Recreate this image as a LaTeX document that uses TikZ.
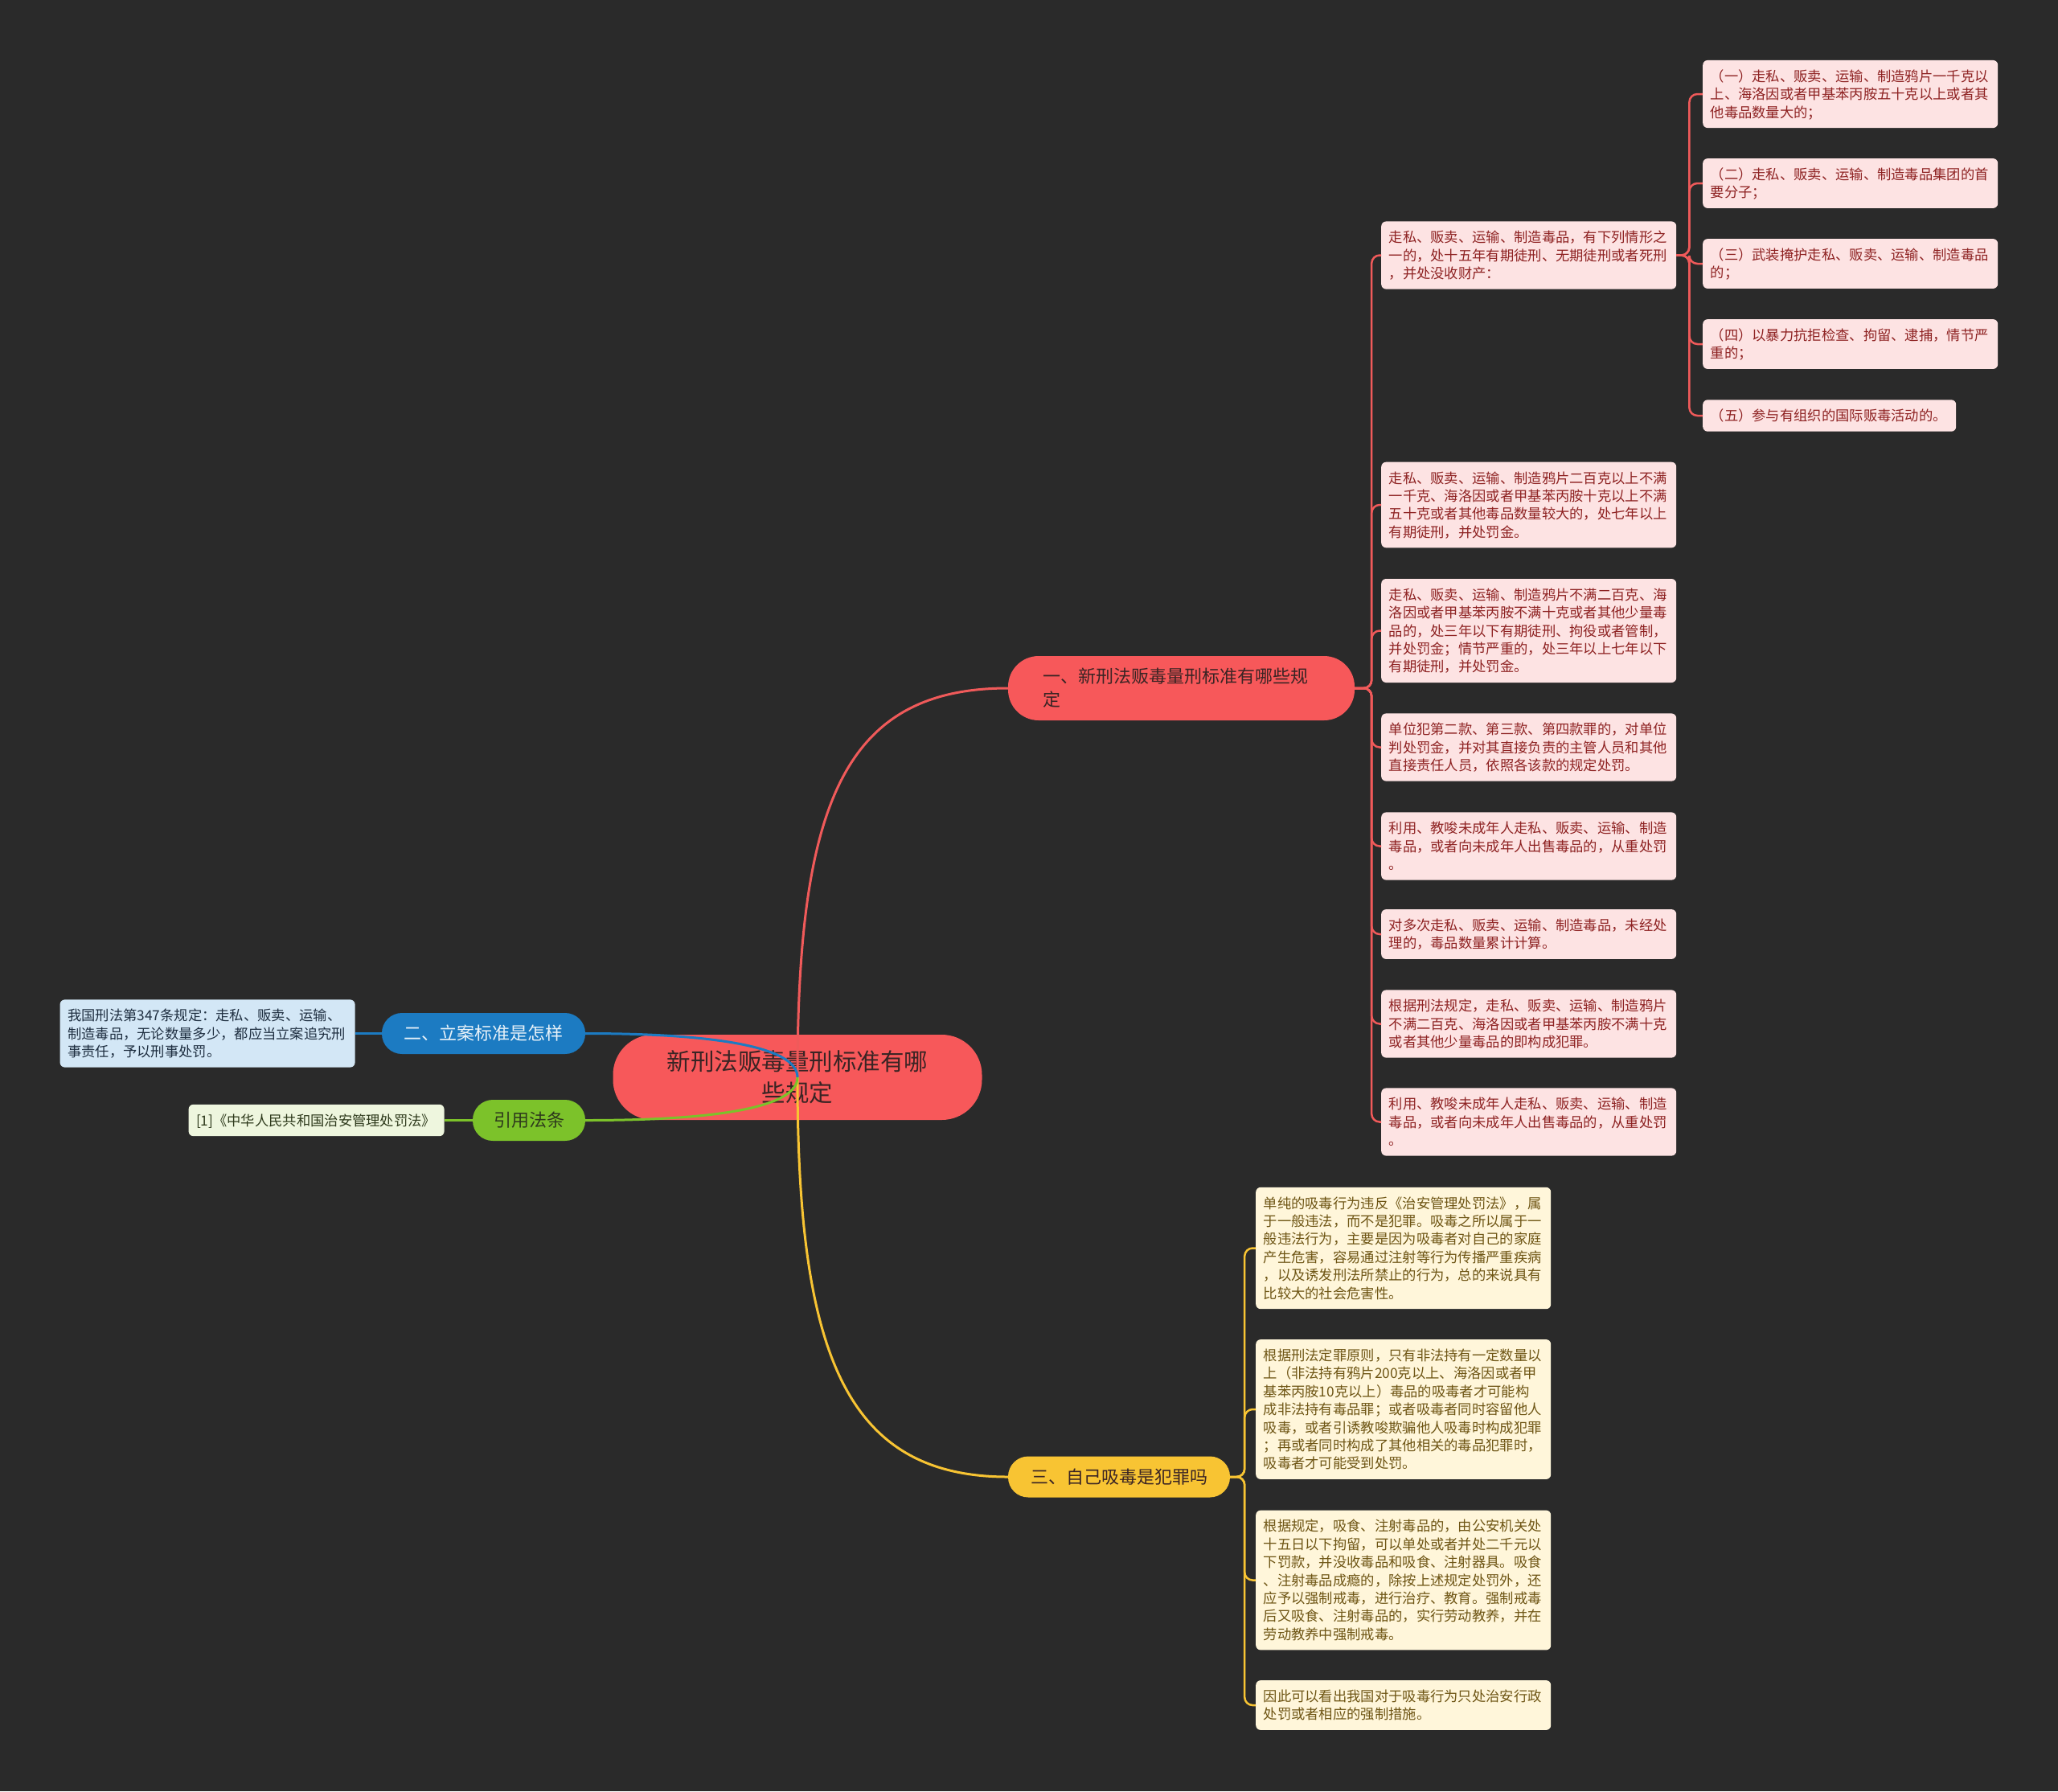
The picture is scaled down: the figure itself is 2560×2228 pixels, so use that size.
\documentclass[tikz,border=0pt]{standalone}
\usepackage{fontspec}
\setmainfont{Noto Sans CJK SC}
\usepackage{xcolor}
\usepackage{tikz}
\usetikzlibrary{positioning}

\definecolor{bgdark}{HTML}{2A2A2A}
\definecolor{rootred}{HTML}{F7585A}
\definecolor{redline}{HTML}{F05A5A}
\definecolor{darktxt}{HTML}{3A2424}
\definecolor{pinkfill}{HTML}{FDE3E3}
\definecolor{pinktxt}{HTML}{8E2222}
\definecolor{topicblue}{HTML}{1C7BC2}
\definecolor{bluefill}{HTML}{D3E7F6}
\definecolor{bluetxt}{HTML}{1E2E40}
\definecolor{topicgreen}{HTML}{7CC22A}
\definecolor{greenfill}{HTML}{EEF6DE}
\definecolor{greentxt}{HTML}{2E3A1C}
\definecolor{topicyellow}{HTML}{F8C433}
\definecolor{creamfill}{HTML}{FFF6DA}
\definecolor{creamtxt}{HTML}{6E5514}

\newcommand{\leafstrut}{\rule[-4.6pt]{0pt}{22.4pt}}

\begin{document}
\begin{tikzpicture}[x=1pt, y=1pt,
  rootbox/.style={fill=rootred, text=darktxt, rounded corners=50pt, minimum width=459pt, minimum height=106pt, align=center, font=\fontsize{29.5}{39}\selectfont},
  topic/.style={rounded corners=25pt, minimum height=51pt, inner sep=0pt, font=\fontsize{22}{29}\selectfont},
  leaf/.style={rounded corners=6pt, text width=348pt, inner xsep=9.5pt, inner ysep=8.5pt, align=left, font=\fontsize{17.3}{22.4}\selectfont, execute at begin node=\leafstrut, execute at end node=\leafstrut},
  redleaf/.style={leaf, fill=pinkfill, text=pinktxt, anchor=west},
  yellowleaf/.style={leaf, fill=creamfill, text=creamtxt, anchor=west},
  mainline/.style={line width=3pt},
  leafline/.style={line width=2.5pt, rounded corners=10pt}]
  \fill [bgdark] (0,0) rectangle (2560,-2228);
  \useasboundingbox (0,0) rectangle (2560,-2228);

  \node (root) [rootbox] at (992,-1340) {新刑法贩毒量刑标准有哪\\些规定};

  \node (b1) [topic, fill=rootred, text=darktxt, rounded corners=38pt, minimum height=80pt, text width=345pt, inner xsep=43pt, align=left] at (1469.5,-856) {一、新刑法贩毒量刑标准有哪些规\\定};
  \node (b2) [topic, fill=topicblue, text=white!90!topicblue, minimum width=253pt] at (601.5,-1285.5) {二、立案标准是怎样};
  \node (b3) [topic, fill=topicgreen, text=greentxt, minimum width=140pt] at (658,-1393.5) {引用法条};
  \node (b4) [topic, fill=topicyellow, text=darktxt, minimum width=276pt] at (1392,-1837) {三、自己吸毒是犯罪吗};

  \node (l1a) [redleaf] at (1718,-317.5) {走私、贩卖、运输、制造毒品，有下列情形之\\一的，处十五年有期徒刑、无期徒刑或者死刑\\，并处没收财产：};
  \node (l1b) [redleaf] at (1718,-628) {走私、贩卖、运输、制造鸦片二百克以上不满\\一千克、海洛因或者甲基苯丙胺十克以上不满\\五十克或者其他毒品数量较大的，处七年以上\\有期徒刑，并处罚金。};
  \node (l1c) [redleaf] at (1718,-784.5) {走私、贩卖、运输、制造鸦片不满二百克、海\\洛因或者甲基苯丙胺不满十克或者其他少量毒\\品的，处三年以下有期徒刑、拘役或者管制，\\并处罚金；情节严重的，处三年以上七年以下\\有期徒刑，并处罚金。};
  \node (l1d) [redleaf] at (1718,-929.5) {单位犯第二款、第三款、第四款罪的，对单位\\判处罚金，并对其直接负责的主管人员和其他\\直接责任人员，依照各该款的规定处罚。};
  \node (l1e) [redleaf] at (1718,-1052.5) {利用、教唆未成年人走私、贩卖、运输、制造\\毒品，或者向未成年人出售毒品的，从重处罚\\。};
  \node (l1f) [redleaf] at (1718,-1162) {对多次走私、贩卖、运输、制造毒品，未经处\\理的，毒品数量累计计算。};
  \node (l1g) [redleaf] at (1718,-1273.5) {根据刑法规定，走私、贩卖、运输、制造鸦片\\不满二百克、海洛因或者甲基苯丙胺不满十克\\或者其他少量毒品的即构成犯罪。};
  \node (l1h) [redleaf] at (1718,-1395.5) {利用、教唆未成年人走私、贩卖、运输、制造\\毒品，或者向未成年人出售毒品的，从重处罚\\。};

  \node (s1) [redleaf] at (2118,-117) {（一）走私、贩卖、运输、制造鸦片一千克以\\上、海洛因或者甲基苯丙胺五十克以上或者其\\他毒品数量大的；};
  \node (s2) [redleaf] at (2118,-228) {（二）走私、贩卖、运输、制造毒品集团的首\\要分子；};
  \node (s3) [redleaf] at (2118,-328) {（三）武装掩护走私、贩卖、运输、制造毒品\\的；};
  \node (s4) [redleaf] at (2118,-428) {（四）以暴力抗拒检查、拘留、逮捕，情节严\\重的；};
  \node (s5) [redleaf, text width=296pt] at (2118,-517) {（五）参与有组织的国际贩毒活动的。};

  \node (y1) [yellowleaf] at (1562,-1552.5) {单纯的吸毒行为违反《治安管理处罚法》，属\\于一般违法，而不是犯罪。吸毒之所以属于一\\般违法行为，主要是因为吸毒者对自己的家庭\\产生危害，容易通过注射等行为传播严重疾病\\，以及诱发刑法所禁止的行为，总的来说具有\\比较大的社会危害性。};
  \node (y2) [yellowleaf] at (1562,-1753) {根据刑法定罪原则，只有非法持有一定数量以\\上（非法持有鸦片200克以上、海洛因或者甲\\基苯丙胺10克以上）毒品的吸毒者才可能构\\成非法持有毒品罪；或者吸毒者同时容留他人\\吸毒，或者引诱教唆欺骗他人吸毒时构成犯罪\\；再或者同时构成了其他相关的毒品犯罪时，\\吸毒者才可能受到处罚。};
  \node (y3) [yellowleaf] at (1562,-1965.5) {根据规定，吸食、注射毒品的，由公安机关处\\十五日以下拘留，可以单处或者并处二千元以\\下罚款，并没收毒品和吸食、注射器具。吸食\\、注射毒品成瘾的，除按上述规定处罚外，还\\应予以强制戒毒，进行治疗、教育。强制戒毒\\后又吸食、注射毒品的，实行劳动教养，并在\\劳动教养中强制戒毒。};
  \node (y4) [yellowleaf] at (1562,-2121) {因此可以看出我国对于吸毒行为只处治安行政\\处罚或者相应的强制措施。};

  \node (b2a) [leaf, fill=bluefill, text=bluetxt, left=33pt of b2] {我国刑法第347条规定：走私、贩卖、运输、\\制造毒品，无论数量多少，都应当立案追究刑\\事责任，予以刑事处罚。};
  \node (b3a) [leaf, fill=greenfill, text=greentxt, text width=299pt, left=35pt of b3] {[1]《中华人民共和国治安管理处罚法》};

  \draw [mainline, redline] (root.center) to[out=90, in=180, out distance=340pt, in distance=204pt] (b1.west);
  \draw [mainline, topicyellow] (root.center) to[out=-90, in=180, out distance=340pt, in distance=204pt] (b4.west);
  \draw [mainline, topicblue] (b2.east) to[out=0, in=90, out distance=150pt, in distance=40pt] (root.center);
  \draw [mainline, topicgreen] (b3.east) to[out=0, in=-90, out distance=150pt, in distance=40pt] (root.center);

  \draw [leafline, redline] (b1.east) -- ++(21,0) |- (l1a.west);
  \draw [leafline, redline] (b1.east) -- ++(21,0) |- (l1b.west);
  \draw [leafline, redline] (b1.east) -- ++(21,0) |- (l1c.west);
  \draw [leafline, redline] (b1.east) -- ++(21,0) |- (l1d.west);
  \draw [leafline, redline] (b1.east) -- ++(21,0) |- (l1e.west);
  \draw [leafline, redline] (b1.east) -- ++(21,0) |- (l1f.west);
  \draw [leafline, redline] (b1.east) -- ++(21,0) |- (l1g.west);
  \draw [leafline, redline] (b1.east) -- ++(21,0) |- (l1h.west);

  \draw [leafline, redline] (l1a.east) -- ++(16,0) |- (s1.west);
  \draw [leafline, redline] (l1a.east) -- ++(16,0) |- (s2.west);
  \draw [leafline, redline] (l1a.east) -- ++(16,0) |- (s3.west);
  \draw [leafline, redline] (l1a.east) -- ++(16,0) |- (s4.west);
  \draw [leafline, redline] (l1a.east) -- ++(16,0) |- (s5.west);

  \draw [leafline, topicyellow] (b4.east) -- ++(18,0) |- (y1.west);
  \draw [leafline, topicyellow] (b4.east) -- ++(18,0) |- (y2.west);
  \draw [leafline, topicyellow] (b4.east) -- ++(18,0) |- (y3.west);
  \draw [leafline, topicyellow] (b4.east) -- ++(18,0) |- (y4.west);

  \draw [leafline, topicblue] (b2a) -- (b2);
  \draw [leafline, topicgreen] (b3a) -- (b3);
\end{tikzpicture}
\end{document}
